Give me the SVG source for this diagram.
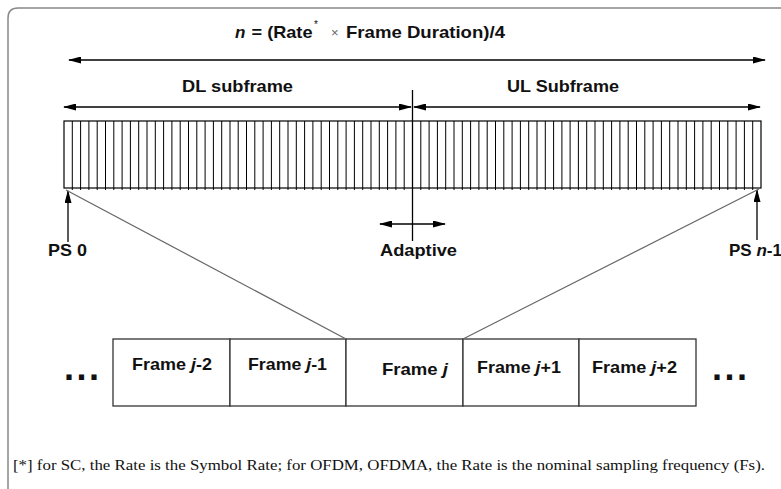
<svg xmlns="http://www.w3.org/2000/svg" width="781" height="489" viewBox="0 0 781 489">
  <style>
    .lbl { font-family: "Liberation Sans", Arial, sans-serif; font-weight: bold; font-size: 17px; fill: #111; }
    .it { font-style: italic; }
    .note { font-family: "Liberation Serif", "Times New Roman", serif; font-size: 15px; fill: #111; }
    .arr { stroke: #000; stroke-width: 1.3; fill: none; marker-start: url(#ah); marker-end: url(#ah); }
    .up { stroke: #000; stroke-width: 1.3; fill: none; marker-end: url(#ah); }
    .diag { stroke: #666; stroke-width: 1.2; fill: none; }
    .box { fill: #fff; stroke: #333; stroke-width: 1.3; }
    .dots { font-family: "Liberation Sans", Arial, sans-serif; font-weight: bold; font-size: 36px; letter-spacing: 2.5px; fill: #111; }
  </style>
  <defs>
    <marker id="ah" viewBox="0 0 13 7" refX="12" refY="3.5" markerWidth="13" markerHeight="7" markerUnits="userSpaceOnUse" orient="auto-start-reverse">
      <path d="M0,0 L13,3.5 L0,7 Z" fill="#000"/>
    </marker>
  </defs>

  <rect width="781" height="489" fill="#fff"/>
  <!-- outer frame, open towards the right and bottom -->
  <path d="M8,500 V18 Q8,8 18,8 H790" fill="none" stroke="#888" stroke-width="1.5"/>

  <!-- frame length formula -->
  <g id="formula">
    <text class="lbl it" x="235" y="38">n</text>
    <text class="lbl" x="251.5" y="38" textLength="61" lengthAdjust="spacingAndGlyphs">= (Rate</text>
    <text x="314" y="28" font-family="Liberation Sans, Arial, sans-serif" font-size="10" fill="#111">*</text>
    <text x="331" y="37" font-family="Liberation Sans, Arial, sans-serif" font-size="13" fill="#666">×</text>
    <text class="lbl" x="346" y="38" textLength="159" lengthAdjust="spacingAndGlyphs">Frame Duration)/4</text>
  </g>

  <g id="dl-label"><text class="lbl" x="182" y="92" textLength="111" lengthAdjust="spacingAndGlyphs">DL subframe</text></g>
  <g id="ul-label"><text class="lbl" x="507" y="92" textLength="112" lengthAdjust="spacingAndGlyphs">UL Subframe</text></g>

  <!-- physical slot strip: 84 slots -->
  <g id="slots">
    <rect x="64" y="121" width="697" height="67" fill="#fff" stroke="#000" stroke-width="1.2"/>
    <path stroke="#000" stroke-width="1" fill="none" d="M72.3,121V190M80.6,121V190M88.9,121V190M97.2,121V190M105.5,121V190M113.8,121V190M122.1,121V190M130.4,121V190M138.7,121V190M147,121V190M155.3,121V190M163.6,121V190M171.9,121V190M180.2,121V190M188.5,121V190M196.8,121V190M205.1,121V190M213.4,121V190M221.7,121V190M230,121V190M238.2,121V190M246.5,121V190M254.8,121V190M263.1,121V190M271.4,121V190M279.7,121V190M288,121V190M296.3,121V190M304.6,121V190M312.9,121V190M321.2,121V190M329.5,121V190M337.8,121V190M346.1,121V190M354.4,121V190M362.7,121V190M371,121V190M379.3,121V190M387.6,121V190M395.9,121V190M404.2,121V190M420.8,121V190M429.1,121V190M437.4,121V190M445.7,121V190M454,121V190M462.3,121V190M470.6,121V190M478.9,121V190M487.2,121V190M495.5,121V190M503.8,121V190M512.1,121V190M520.4,121V190M528.7,121V190M537,121V190M545.3,121V190M553.6,121V190M561.9,121V190M570.1,121V190M578.4,121V190M586.7,121V190M595,121V190M603.3,121V190M611.6,121V190M619.9,121V190M628.2,121V190M636.5,121V190M644.8,121V190M653.1,121V190M661.4,121V190M669.7,121V190M678,121V190M686.3,121V190M694.6,121V190M702.9,121V190M711.2,121V190M719.5,121V190M727.8,121V190M736.1,121V190M744.4,121V190M752.7,121V190"/>
  </g>

  <g id="ps0"><text class="lbl" x="48" y="256" textLength="39" lengthAdjust="spacingAndGlyphs">PS 0</text></g>
  <g id="psn"><text class="lbl" x="729" y="256">PS <tspan class="it">n</tspan>-1</text></g>
  <g id="adaptive"><text class="lbl" x="380" y="256" textLength="77" lengthAdjust="spacingAndGlyphs">Adaptive</text></g>

  <!-- frame sequence -->
  <g id="frame-jm2">
    <rect class="box" x="113" y="339" width="117" height="67"/>
    <text class="lbl" x="132" y="369.5" textLength="80" lengthAdjust="spacingAndGlyphs">Frame <tspan class="it">j</tspan>-2</text>
  </g>
  <g id="frame-jm1">
    <rect class="box" x="230" y="339" width="116" height="67"/>
    <text class="lbl" x="248" y="369.5" textLength="79" lengthAdjust="spacingAndGlyphs">Frame <tspan class="it">j</tspan>-1</text>
  </g>
  <g id="frame-j">
    <rect class="box" x="346" y="339" width="117" height="67"/>
    <text class="lbl" x="382" y="374.5" textLength="66" lengthAdjust="spacingAndGlyphs">Frame <tspan class="it">j</tspan></text>
  </g>
  <g id="frame-jp1">
    <rect class="box" x="463" y="339" width="116" height="67"/>
    <text class="lbl" x="477" y="373" textLength="84" lengthAdjust="spacingAndGlyphs">Frame <tspan class="it">j</tspan>+1</text>
  </g>
  <g id="frame-jp2">
    <rect class="box" x="579" y="339" width="117" height="67"/>
    <text class="lbl" x="592" y="373" textLength="85" lengthAdjust="spacingAndGlyphs">Frame <tspan class="it">j</tspan>+2</text>
  </g>
  <g id="more-left"><text class="dots" x="64" y="380">...</text></g>
  <g id="more-right"><text class="dots" x="712" y="380">...</text></g>

  <g id="connectors">
    <line class="arr" x1="69" y1="60" x2="765" y2="60"/>
    <line class="arr" x1="64" y1="107" x2="411" y2="107"/>
    <line class="arr" x1="414" y1="107" x2="760" y2="107"/>
    <line x1="412.5" y1="90" x2="412.5" y2="241" stroke="#000" stroke-width="1.3"/>
    <line class="arr" x1="380" y1="224" x2="445" y2="224"/>
    <line class="up" x1="68" y1="242" x2="68" y2="191"/>
    <line class="up" x1="757" y1="240" x2="757" y2="190"/>
    <line class="diag" x1="66" y1="190" x2="346" y2="339"/>
    <line class="diag" x1="463" y1="339" x2="759" y2="189"/>
  </g>

  <g id="footnote">
    <text class="note" x="13" y="470" textLength="752" lengthAdjust="spacingAndGlyphs">[*] for SC, the Rate is the Symbol Rate; for OFDM, OFDMA, the Rate is the nominal sampling frequency (Fs).</text>
  </g>
</svg>
